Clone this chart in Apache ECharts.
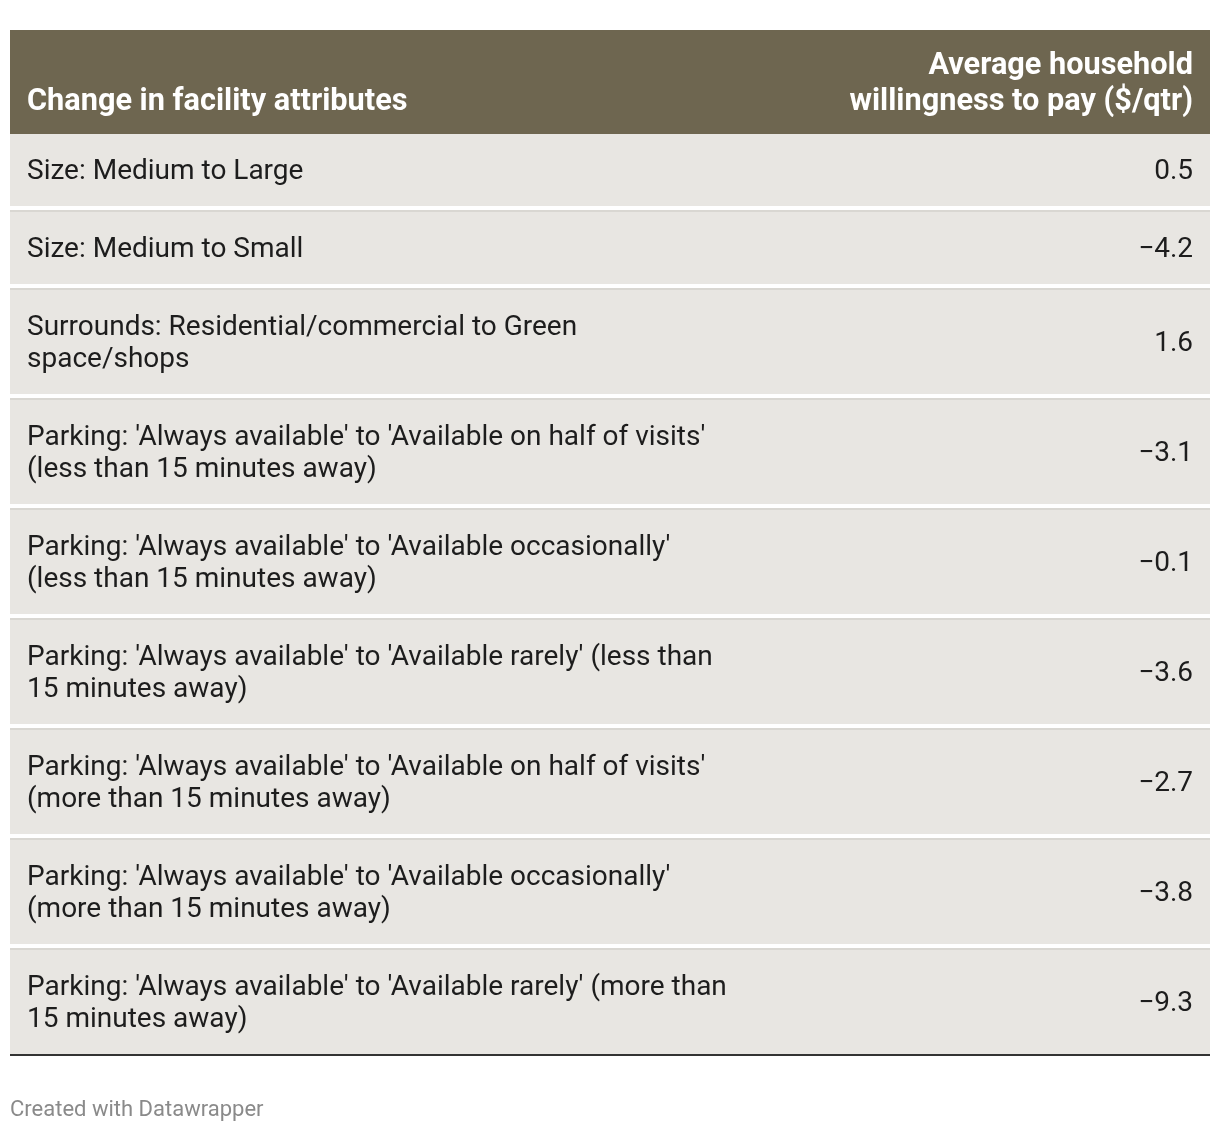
<!DOCTYPE html>
<html>
<head>
<meta charset="utf-8">
<script src="https://cdn.jsdelivr.net/npm/echarts@6/dist/echarts.min.js"></script>
<style>
  html, body { margin: 0; padding: 0; background: #ffffff; }
  #chart { width: 1220px; height: 1132px; }
</style>
</head>
<body>
<div id="chart"></div>
<script>
// ---- Data ----
const columnHeaders = [
  'Change in facility attributes',
  'Average household\nwillingness to pay ($/qtr)'
];
const categories = [
  'Size: Medium to Large',
  'Size: Medium to Small',
  'Surrounds: Residential/commercial to Green\nspace/shops',
  "Parking: 'Always available' to 'Available on half of visits'\n(less than 15 minutes away)",
  "Parking: 'Always available' to 'Available occasionally'\n(less than 15 minutes away)",
  "Parking: 'Always available' to 'Available rarely' (less than\n15 minutes away)",
  "Parking: 'Always available' to 'Available on half of visits'\n(more than 15 minutes away)",
  "Parking: 'Always available' to 'Available occasionally'\n(more than 15 minutes away)",
  "Parking: 'Always available' to 'Available rarely' (more than\n15 minutes away)"
];
const values = [0.5, -4.2, 1.6, -3.1, -0.1, -3.6, -2.7, -3.8, -9.3];
const footerText = 'Created with Datawrapper';

// ---- Layout helpers ----
const FONT = 'Roboto, "Noto Sans", sans-serif';
const LINE_H = 32;
const HEADER_H = 104;
function rowPitch(label) { return 46 + LINE_H * label.split('\n').length; }
function fmt(v) { return v.toFixed(1).replace('-', '\u2212'); }

let acc = 0;
const rows = categories.map(function (c, i) {
  const p = rowPitch(c);
  const r = [i, acc, p, values[i]];
  acc += p;
  return r;
});
const total = acc;

const chart = echarts.init(document.getElementById('chart'), null, { renderer: 'canvas' });

chart.setOption({
  animation: false,
  backgroundColor: '#ffffff',
  title: {
    text: footerText,
    left: 10,
    top: 1098,
    padding: 0,
    textStyle: { fontFamily: FONT, fontSize: 22, fontWeight: 'normal', color: '#8a8a8a', lineHeight: 24 }
  },
  grid: { left: 10, right: 10, top: 30, height: HEADER_H - 2 + total, containLabel: false },
  xAxis: { type: 'value', min: 0, max: 1, show: false },
  yAxis: { type: 'value', min: -(HEADER_H - 2), max: total, inverse: true, show: false },
  series: [
    {
      type: 'custom',
      coordinateSystem: 'cartesian2d',
      data: rows,
      z: 1,
      renderItem: function (params, api) {
        const idx = params.dataIndex;
        const top = api.value(1), pitch = api.value(2);
        const p0 = api.coord([0, top]);
        const p1 = api.coord([1, top + pitch]);
        const x0 = p0[0], x1 = p1[0], y0 = p0[1], y1 = p1[1];
        const w = x1 - x0;
        const cTop = y0 + 2, cBot = y1 - 4;
        const mid = (cTop + cBot) / 2 + 2;
        const children = [
          { type: 'rect', shape: { x: x0, y: y0, width: w, height: 2 }, style: { fill: '#d9d7d2' } },
          { type: 'rect', shape: { x: x0, y: cTop, width: w, height: cBot - cTop }, style: { fill: '#e8e6e2' } },
          { type: 'text', x: x0 + 17, y: mid, style: {
              text: categories[idx], fill: '#1d1d1d', font: '28px ' + FONT,
              lineHeight: LINE_H, align: 'left', verticalAlign: 'middle' } },
          { type: 'text', x: x1 - 17, y: mid, style: {
              text: fmt(api.value(3)), fill: '#1d1d1d', font: '28px ' + FONT,
              lineHeight: LINE_H, align: 'right', verticalAlign: 'middle' } }
        ];
        if (idx === rows.length - 1) {
          children.push({ type: 'rect', shape: { x: x0, y: cBot, width: w, height: 2 }, style: { fill: '#333333' } });
        }
        return { type: 'group', children: children };
      }
    },
    {
      type: 'custom',
      coordinateSystem: 'cartesian2d',
      data: [[0, -(HEADER_H - 2), 2]],
      z: 2,
      renderItem: function (params, api) {
        const p0 = api.coord([0, api.value(1)]);
        const p1 = api.coord([1, api.value(2)]);
        const x0 = p0[0], x1 = p1[0], y0 = p0[1], y1 = p1[1];
        const base = y1 - 14;
        return {
          type: 'group',
          children: [
            { type: 'rect', shape: { x: x0, y: y0, width: x1 - x0, height: y1 - y0 }, style: { fill: '#6e6650' } },
            { type: 'text', x: x0 + 17, y: base, style: {
                text: columnHeaders[0], fill: '#ffffff', font: 'bold 30.7px ' + FONT,
                lineHeight: 36, align: 'left', verticalAlign: 'bottom' } },
            { type: 'text', x: x1 - 17, y: base, style: {
                text: columnHeaders[1], fill: '#ffffff', font: 'bold 30.7px ' + FONT,
                lineHeight: 36, align: 'right', verticalAlign: 'bottom' } }
          ]
        };
      }
    }
  ]
});
</script>
</body>
</html>
